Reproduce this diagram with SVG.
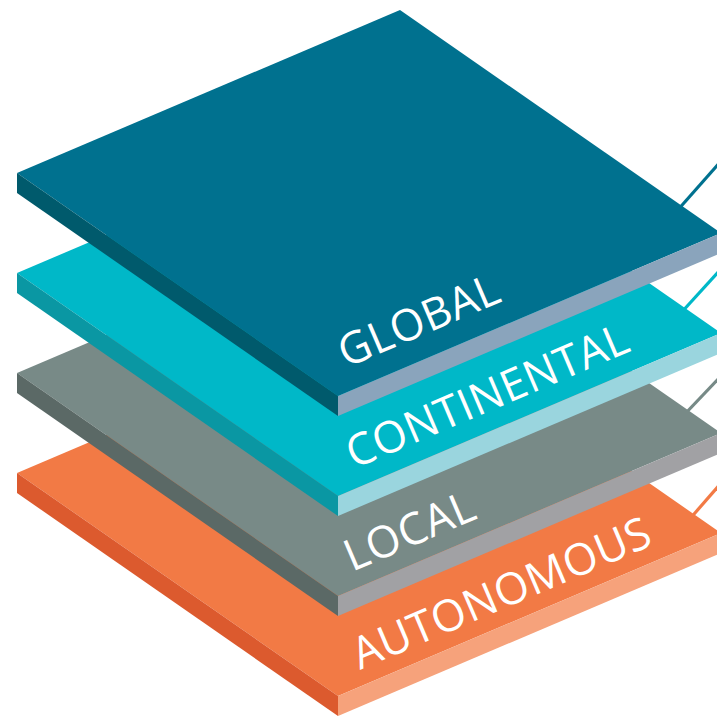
<svg xmlns="http://www.w3.org/2000/svg" width="717" height="720" viewBox="0 0 717 720">
<style>
.lbl{font-family:"Open Sans","Liberation Sans",sans-serif;font-size:44px;fill:#ffffff;letter-spacing:0.5px}
.conn{fill:none;stroke-width:3.2;stroke-linecap:butt}
</style>
<rect width="717" height="720" fill="#ffffff"/>
<g id="connectors">
<line class="conn" x1="676" y1="212" x2="722" y2="160" stroke="#00718f"/>
<line class="conn" x1="680" y1="314" x2="722" y2="268" stroke="#00b8c8"/>
<line class="conn" x1="683" y1="416" x2="722" y2="375" stroke="#778a87"/>
<line class="conn" x1="688" y1="521" x2="722" y2="482" stroke="#f27a45"/>
</g>
<g id="autonomous" transform="translate(0,300)">
<polygon fill="#f27a45" points="17,173 400,10 721,233 338,396"/>
<polygon fill="#dc5a2e" points="17,173 338,396 338,416 17,193"/>
<polygon fill="#f6a27b" points="338,396 721,233 721,253 338,416"/>
<text class="lbl" transform="translate(360,370) rotate(-23.1)">AUTONOMOUS</text>
</g>
<g id="local" transform="translate(0,200)">
<polygon fill="#788a87" points="17,173 400,10 721,233 338,396"/>
<polygon fill="#5b6966" points="17,173 338,396 338,416 17,193"/>
<polygon fill="#a1a1a4" points="338,396 721,233 721,253 338,416"/>
<text class="lbl" transform="translate(352,372) rotate(-23.1)">LOCAL</text>
</g>
<g id="continental" transform="translate(0,100)">
<polygon fill="#00b8c8" points="17,173 400,10 721,233 338,396"/>
<polygon fill="#0a97a3" points="17,173 338,396 338,416 17,193"/>
<polygon fill="#9ad5de" points="338,396 721,233 721,253 338,416"/>
<text class="lbl" transform="translate(354,369) rotate(-23.1)">CONTINENTAL</text>
</g>
<g id="global">
<polygon fill="#00718f" points="17,173 400,10 721,233 338,396"/>
<polygon fill="#005a6c" points="17,173 338,396 338,416 17,193"/>
<polygon fill="#8aa4bc" points="338,396 721,233 721,253 338,416"/>
<text class="lbl" transform="translate(346,368) rotate(-23.1)">GLOBAL</text>
</g>
</svg>
